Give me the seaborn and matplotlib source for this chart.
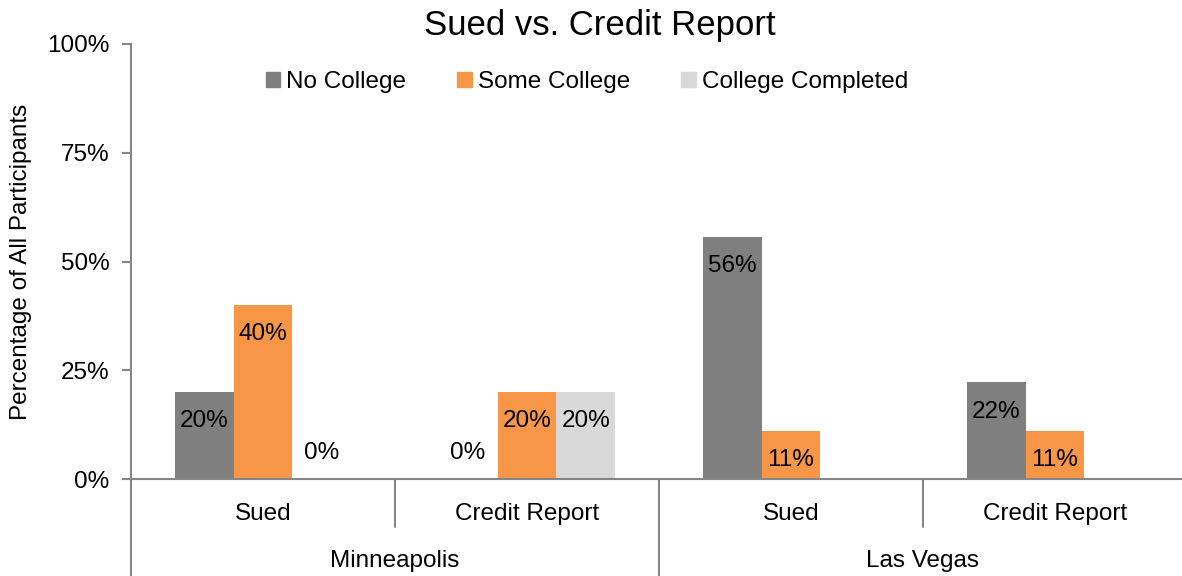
import matplotlib.pyplot as plt
import matplotlib.transforms as mtransforms
import numpy as np
import pandas as pd
import seaborn as sns

# Data
cities = ['Minneapolis', 'Minneapolis', 'Las Vegas', 'Las Vegas']
measures = ['Sued', 'Credit Report', 'Sued', 'Credit Report']
no_college = [20.0, 0.0, 55.6, 22.2]
some_college = [40.0, 20.0, 11.1, 11.1]
college_completed = [0.0, 20.0, np.nan, np.nan]
series = ['No College', 'Some College', 'College Completed']
colors = {'No College': '#7f7f7f', 'Some College': '#f79646', 'College Completed': '#d9d9d9'}

categories = [f'{c}|{m}' for c, m in zip(cities, measures)]
df = pd.DataFrame({
    'category': categories * 3,
    'group': [s for s in series for _ in categories],
    'value': no_college + some_college + college_completed,
})

sns.set_style('white')
plt.rcParams['font.family'] = ['Liberation Sans', 'DejaVu Sans']
plt.rcParams['text.color'] = 'black'
plt.rcParams['axes.labelcolor'] = 'black'
plt.rcParams['xtick.labelcolor'] = 'black'
plt.rcParams['ytick.labelcolor'] = 'black'
axis_grey = '#868686'

fig = plt.figure(figsize=(11.82, 5.76), dpi=100)
ax = fig.add_axes([131 / 1182, 97 / 576, 1056 / 1182, 435 / 576])

sns.barplot(data=df, x='category', y='value', hue='group', order=categories,
            hue_order=series, palette=colors, width=0.67, saturation=1,
            errorbar=None, legend=True, linewidth=0, ax=ax)

ax.set_xlim(-0.5, 3.5)
ax.set_ylim(0, 100)
ax.set_yticks([0, 25, 50, 75, 100])
ax.set_yticklabels([f'{t}%' for t in [0, 25, 50, 75, 100]], fontsize=17.5)
ax.set_xticks(range(len(categories)))
ax.set_xticklabels(measures, fontsize=17.5)
ax.tick_params(axis='y', length=6.5, width=1.5, color=axis_grey, pad=9, left=True)
ax.tick_params(axis='x', length=0, pad=17)
ax.set_xlabel('')
ax.set_ylabel('Percentage of All Participants', fontsize=17.5)
ax.yaxis.set_label_coords(-0.094, 0.5)

for side in ['top', 'right']:
    ax.spines[side].set_visible(False)
for side in ['left', 'bottom']:
    ax.spines[side].set_color(axis_grey)
    ax.spines[side].set_linewidth(1.5)

# category dividers and city labels below the axis
trans = mtransforms.blended_transform_factory(ax.transData, ax.transAxes)
fig_bottom = -97 / 435
for x0, y1 in [(-0.5, fig_bottom), (0.5, -48 / 435), (1.5, fig_bottom), (2.5, -48 / 435)]:
    ax.plot([x0, x0], [0, y1], color=axis_grey, lw=1.5, transform=trans, clip_on=False)
for xc, city in [(0.5, 'Minneapolis'), (2.5, 'Las Vegas')]:
    ax.text(xc, -82 / 435, city, transform=trans, ha='center', va='center', fontsize=17.5)

# data labels: inside the top of the bar, above the axis for zero
for cont in ax.containers:
    for bar in cont:
        h = bar.get_height()
        if np.isnan(h):
            continue
        off = -21 if h > 0 else 18.5
        ax.annotate(f'{h:.0f}%', (bar.get_x() + bar.get_width() / 2, h),
                    xytext=(0, off), textcoords='offset points',
                    ha='center', va='center', fontsize=17.5, color='black')

ax.get_legend().remove()
handles = [plt.Rectangle((0, 0), 1, 1, color=colors[s]) for s in series]
fig.legend(handles, series, loc='center', bbox_to_anchor=(587 / 1182, 1 - 82 / 576),
           ncol=3, frameon=False, fontsize=17.5, handlelength=0.6, handleheight=0.6,
           handletextpad=0.25, columnspacing=2.1)

fig.text(600 / 1182, 1 - 26 / 576, 'Sued vs. Credit Report', ha='center', va='center', fontsize=25)

fig.savefig('out.png', dpi=100)
